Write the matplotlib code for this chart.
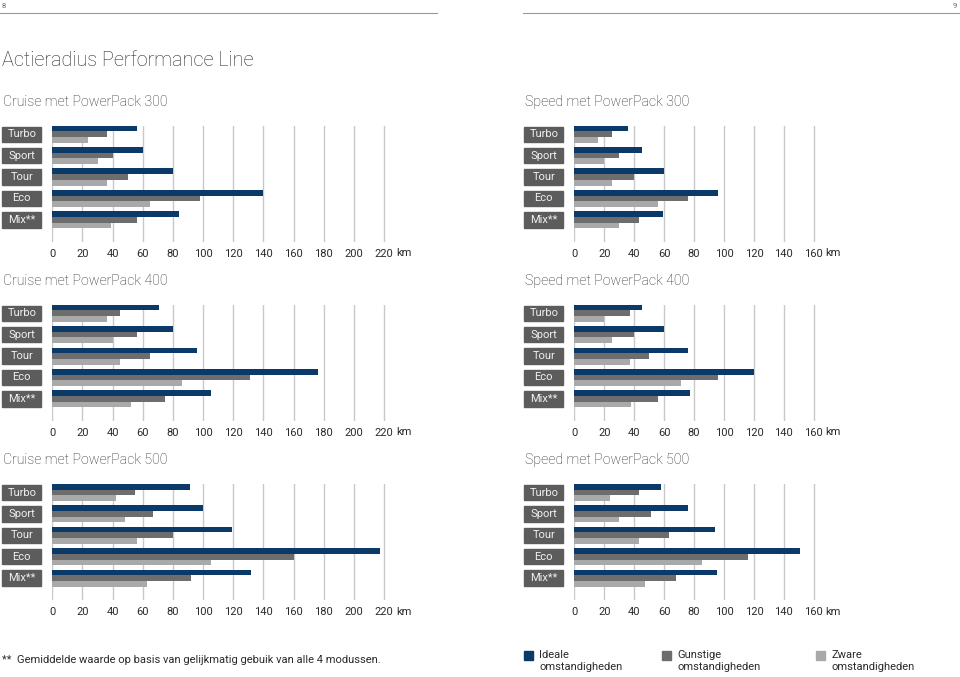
import numpy as np
import matplotlib
matplotlib.use('Agg')
import matplotlib.pyplot as plt
from matplotlib.patches import Rectangle
from matplotlib.transforms import blended_transform_factory

plt.rcParams['font.family'] = ['Roboto', 'DejaVu Sans']

# data (km)
modes = ['Turbo', 'Sport', 'Tour', 'Eco', 'Mix**']
legend_labels = ['Ideale\nomstandigheden', 'Gunstige\nomstandigheden', 'Zware\nomstandigheden']

cruise300_ideaal = [56, 60, 80, 140, 84]
cruise300_gunstig = [36, 40, 50, 98, 56]
cruise300_zwaar = [24, 30, 36, 65, 39]
speed300_ideaal = [36, 45, 60, 96, 59]
speed300_gunstig = [25, 30, 40, 76, 43]
speed300_zwaar = [16, 20, 25, 56, 30]

cruise400_ideaal = [71, 80, 96, 176, 105]
cruise400_gunstig = [45, 56, 65, 131, 75]
cruise400_zwaar = [36, 40, 45, 86, 52]
speed400_ideaal = [45, 60, 76, 120, 77]
speed400_gunstig = [37, 40, 50, 96, 56]
speed400_zwaar = [20, 25, 37, 71, 38]

cruise500_ideaal = [91, 100, 119, 217, 132]
cruise500_gunstig = [55, 67, 80, 160, 92]
cruise500_zwaar = [42, 48, 56, 105, 63]
speed500_ideaal = [58, 76, 94, 151, 95]
speed500_gunstig = [43, 51, 63, 116, 68]
speed500_zwaar = [24, 30, 43, 85, 47]

cruise_ticks = [0, 20, 40, 60, 80, 100, 120, 140, 160, 180, 200, 220]
speed_ticks = [0, 20, 40, 60, 80, 100, 120, 140, 160]

colors = ['#0b3a6a', '#6d6d6d', '#a9a9a9']
box_color = '#5c5c5c'
grid_color = '#c9c9c9'
text_color = '#2a2a2a'

W, H = 960, 677
fig = plt.figure(figsize=(W / 100, H / 100), dpi=100)
fig.patch.set_facecolor('white')


def px(x, y):
    return x / W, 1 - y / H


# page header
fig.text(*px(2, 6), '8', fontsize=5.5, color='#666666', va='center', ha='left')
fig.text(*px(957, 6), '9', fontsize=5.5, color='#666666', va='center', ha='right')
fig.add_artist(plt.Line2D([0, 437 / W], [1 - 13 / H] * 2, color='#999999', lw=0.8))
fig.add_artist(plt.Line2D([523 / W, 1], [1 - 13 / H] * 2, color='#999999', lw=0.8))

fig.text(*px(2, 60), 'Actieradius Performance Line', fontsize=14.3, color=text_color,
         va='center', ha='left', fontweight='light')


def draw_chart(x0, y0, scale, ticks, xmax, title, series):
    # x0: pixel of 0 km, y0: pixel of top of first bar group
    pitch = 21.4
    bh = 0.265
    top = -1.5 * bh
    height_px = 116
    bottom = top + height_px / pitch
    width_px = xmax * scale
    ax = fig.add_axes([x0 / W, 1 - (y0 + height_px) / H, width_px / W, height_px / H])
    y = np.arange(len(modes))
    for k, vals in enumerate(series):
        ax.barh(y + (k - 1) * bh, vals, height=bh, color=colors[k], zorder=3)
    ax.set_xlim(0, xmax)
    ax.set_ylim(bottom, top)
    ax.set_xticks(ticks)
    ax.set_xticklabels([str(t) for t in ticks])
    ax.set_yticks([])
    ax.grid(axis='x', color=grid_color, lw=1.0, zorder=0)
    for s in ax.spines.values():
        s.set_visible(False)
    ax.tick_params(axis='x', length=0, pad=5, labelsize=8, labelcolor=text_color)
    ax.annotate('km', xy=(ticks[-1], 0), xycoords=('data', 'axes fraction'),
                xytext=(8.5, -8.3), textcoords='offset points', ha='left', va='center',
                fontsize=8, color=text_color)
    # mode boxes
    tr = blended_transform_factory(fig.transFigure, ax.transData)
    bx = (x0 - 50) / W
    bw = 39 / W
    for i, m in enumerate(modes):
        ax.add_patch(Rectangle((bx, i - 0.36), bw, 0.72, transform=tr, color=box_color,
                               clip_on=False, zorder=4))
        ax.text(bx + bw / 2, i, m, transform=tr, color='#f0f0f0', ha='center',
                va='center', fontsize=8, zorder=5)
    fig.text(*px(x0 - 49, y0 - 24), title, fontsize=10.2, color=text_color,
             va='center', ha='left', fontweight='light')
    return ax


rows = [125.7, 304.7, 484.0]
draw_chart(52.3, rows[0], 1.508, cruise_ticks, 240, 'Cruise met PowerPack 300',
           [cruise300_ideaal, cruise300_gunstig, cruise300_zwaar])
draw_chart(574.3, rows[0], 1.497, speed_ticks, 170, 'Speed met PowerPack 300',
           [speed300_ideaal, speed300_gunstig, speed300_zwaar])
draw_chart(52.3, rows[1], 1.508, cruise_ticks, 240, 'Cruise met PowerPack 400',
           [cruise400_ideaal, cruise400_gunstig, cruise400_zwaar])
draw_chart(574.3, rows[1], 1.497, speed_ticks, 170, 'Speed met PowerPack 400',
           [speed400_ideaal, speed400_gunstig, speed400_zwaar])
draw_chart(52.3, rows[2], 1.508, cruise_ticks, 240, 'Cruise met PowerPack 500',
           [cruise500_ideaal, cruise500_gunstig, cruise500_zwaar])
draw_chart(574.3, rows[2], 1.497, speed_ticks, 170, 'Speed met PowerPack 500',
           [speed500_ideaal, speed500_gunstig, speed500_zwaar])

# footer
fig.text(*px(2, 660), '**  Gemiddelde waarde op basis van gelijkmatig gebuik van alle 4 modussen.',
         fontsize=8, color=text_color, va='center', ha='left')
legend_x = [524, 662, 816]
for lx, c, lab in zip(legend_x, colors, legend_labels):
    fig.add_artist(Rectangle(px(lx, 660), 9 / W, 9 / H, transform=fig.transFigure, color=c))
    fig.text(*px(lx + 15, 661), lab, fontsize=8, color=text_color, va='center', ha='left',
             linespacing=1.3)

fig.savefig('out.png', dpi=100)
